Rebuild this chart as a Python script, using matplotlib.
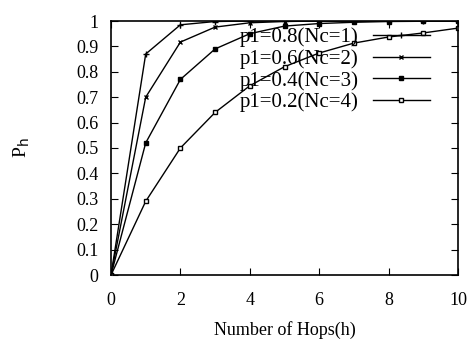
import matplotlib
matplotlib.use("Agg")
import matplotlib.pyplot as plt

hops = [0, 1, 2, 3, 4, 5, 6, 7, 8, 9, 10]
p08 = [0, 0.87, 0.985, 0.998, 1.0, 1.0, 1.0, 1.0, 1.0, 1.0, 1.0]
p06 = [0, 0.70, 0.917, 0.976, 0.993, 0.998, 1.0, 1.0, 1.0, 1.0, 1.0]
p04 = [0, 0.52, 0.77, 0.89, 0.95, 0.98, 0.99, 0.995, 0.998, 0.999, 1.0]
p02 = [0, 0.29, 0.50, 0.64, 0.745, 0.82, 0.874, 0.913, 0.937, 0.953, 0.972]
labels = ["p1=0.8(Nc=1)", "p1=0.6(Nc=2)", "p1=0.4(Nc=3)", "p1=0.2(Nc=4)"]
xticks = [0, 2, 4, 6, 8, 10]
yticks = [0, 0.1, 0.2, 0.3, 0.4, 0.5, 0.6, 0.7, 0.8, 0.9, 1]
ytick_labels = ["0", "0.1", "0.2", "0.3", "0.4", "0.5", "0.6", "0.7", "0.8", "0.9", "1"]

plt.rcParams['font.family'] = ['Liberation Serif', 'DejaVu Serif']

fig = plt.figure(figsize=(4.74, 3.46), dpi=100)
ax = fig.add_axes([111/474, 1 - 275/346, (458-111)/474, (275-21)/346])

ax.plot(hops, p08, color='black', lw=1, marker='+', ms=5, mew=1, label=labels[0])
ax.plot(hops, p06, color='black', lw=1, marker='x', ms=3.5, mew=1, label=labels[1])
ax.plot(hops, p04, color='black', lw=1, marker='s', ms=3.5, mfc='black', label=labels[2])
ax.plot(hops, p02, color='black', lw=1, marker='s', ms=3.5, mfc='white', label=labels[3])

ax.set_xlim(0, 10)
ax.set_ylim(0, 1)
ax.set_xticks(xticks)
ax.set_xticklabels([str(t) for t in xticks])
ax.set_yticks(yticks)
ax.set_yticklabels(ytick_labels)
ax.tick_params(direction='in', top=True, right=True, labelsize=13, length=5)
ax.tick_params(axis='x', pad=12)
ax.tick_params(axis='y', pad=9)
for s in ax.spines.values():
    s.set_linewidth(1.2)

ax.set_xlabel("Number of Hops(h)", fontsize=13, labelpad=9)
ax.set_ylabel(r"P$_\mathrm{h}$", fontsize=14, labelpad=32)

leg = ax.legend(loc='upper right', bbox_to_anchor=(0.942, 1.008), frameon=False,
                markerfirst=False, fontsize=15, handlelength=2.7, handletextpad=0.7,
                labelspacing=0.1, borderaxespad=0)

fig.savefig("out.png", dpi=100)
